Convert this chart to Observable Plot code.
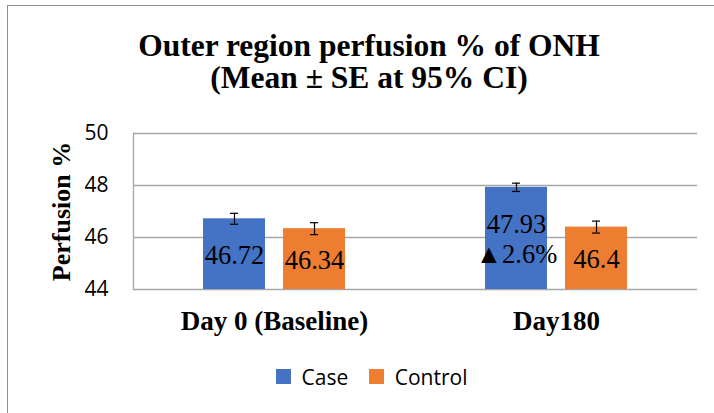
<!DOCTYPE html>
<html>
<head>
<meta charset="utf-8">
<script src="https://cdn.jsdelivr.net/npm/d3@7"></script>
<script src="https://cdn.jsdelivr.net/npm/@observablehq/plot@0.6"></script>
<style>
  html, body { margin: 0; padding: 0; background: #fff; }
  #wrap { position: relative; width: 714px; height: 413px; overflow: hidden; background: #fff; }
  #border { position: absolute; left: 7px; top: 5px; width: 900px; height: 600px;
            border-left: 1.5px solid #8f8f8f; border-top: 1.5px solid #8f8f8f; }
  #title { position: absolute; left: 0; top: 30px; width: 738px; text-align: center;
           font-family: 'Liberation Serif', serif; font-weight: bold;
           font-size: 31.5px; line-height: 32px; color: #000; }
  #chart { position: absolute; left: 0; top: 100px; }
  #legend { position: absolute; left: 276px; top: 360px; }
</style>
</head>
<body>
<div id="wrap">
  <div id="border"></div>
  <div id="title">Outer region perfusion % of ONH<br>(Mean ± SE at 95% CI)</div>
  <div id="chart"></div>
  <div id="legend"></div>
</div>
<script>
const days = ["Day 0 (Baseline)", "Day180"];
const groups = ["Case", "Control"];
const caseMeans = [46.72, 47.93];
const controlMeans = [46.34, 46.40];
const caseSE = [0.21, 0.16];
const controlSE = [0.23, 0.23];
const caseLabels = ["46.72", "47.93\n▲2.6%"];
const controlLabels = ["46.34", "46.4"];
const yTicks = [44, 46, 48, 50];
const yDomain = [44, 50];
const colors = ["#4472C4", "#ED7D31"];

const rows = [];
days.forEach((day, i) => {
  rows.push({day, group: "Case", value: caseMeans[i], se: caseSE[i], label: caseLabels[i]});
  rows.push({day, group: "Control", value: controlMeans[i], se: controlSE[i], label: controlLabels[i]});
});

const base = yDomain[0];
const grid = "#a6a6a6";
const serif = "'Liberation Serif', serif";
const sans = "'Open Sans', sans-serif";

const chart = Plot.plot({
  width: 714,
  height: 250,
  marginTop: 33,
  marginBottom: 61,
  marginLeft: 133,
  marginRight: 17,
  fx: {domain: days, padding: 0},
  x: {domain: groups, paddingInner: 0.22, paddingOuter: 0.87, axis: null},
  y: {domain: yDomain},
  color: {domain: groups, range: colors},
  style: {background: "transparent", color: "#000"},
  marks: [
    Plot.ruleY(yTicks, {stroke: grid, strokeWidth: 1.3}),
    Plot.frame({anchor: "left", facetAnchor: "left", stroke: grid, strokeWidth: 1.3}),
    Plot.barY(rows, {fx: "day", x: "group", y1: base, y2: "value", fill: "group"}),
    Plot.ruleX(rows, {fx: "day", x: "group", y1: d => d.value - d.se, y2: d => d.value + d.se, stroke: "#000", strokeWidth: 1.2}),
    Plot.tickY(rows, {fx: "day", x: "group", y: d => d.value + d.se, insetLeft: 27, insetRight: 27, stroke: "#000", strokeWidth: 1.2}),
    Plot.tickY(rows, {fx: "day", x: "group", y: d => d.value - d.se, insetLeft: 27, insetRight: 27, stroke: "#000", strokeWidth: 1.2}),
    Plot.text(rows, {fx: "day", x: "group", y: d => (base + d.value) / 2, text: "label",
      fontFamily: serif, fontSize: 26.5, lineHeight: 1.13, fill: "#000"}),
    Plot.axisY({ticks: yTicks, tickFormat: d => String(d), tickSize: 0, tickPadding: 25, label: null,
      fontFamily: sans, fontSize: 21, fill: "#000"}),
    Plot.axisY({ticks: [], label: "Perfusion %", labelAnchor: "center", labelArrow: false, labelOffset: 82,
      fontFamily: serif, fontWeight: "bold", fontSize: 26, fill: "#000"}),
    Plot.axisFx({anchor: "bottom", tickSize: 0, tickPadding: 21, label: null,
      fontFamily: serif, fontWeight: "bold", fontSize: 27, fill: "#000"})
  ]
});
document.getElementById("chart").appendChild(chart);

const legend = Plot.legend({
  color: {type: "ordinal", domain: groups, range: colors},
  swatchSize: 15,
  style: {fontFamily: sans, fontSize: "21px", color: "#000"}
});
document.getElementById("legend").appendChild(legend);
</script>
</body>
</html>
